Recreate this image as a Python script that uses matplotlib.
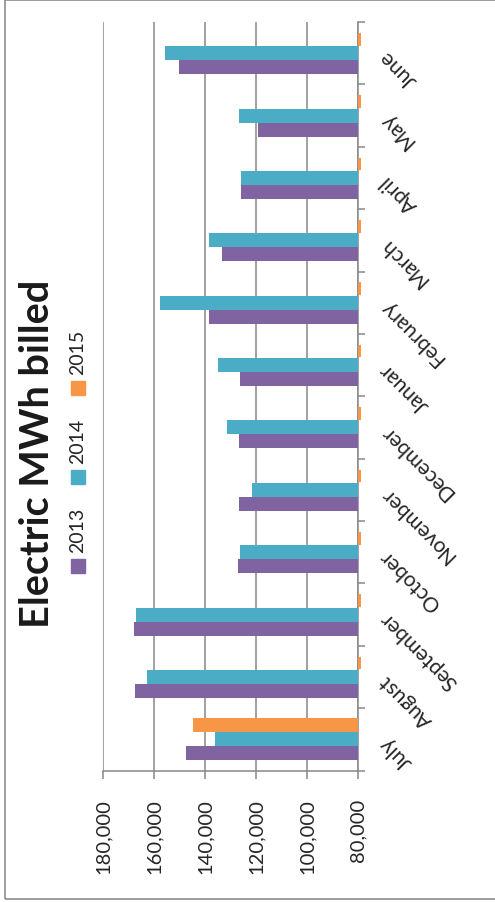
import matplotlib
matplotlib.use("Agg")
import matplotlib.pyplot as plt
import matplotlib.patches as patches
import numpy as np

# monthly electric MWh billed, fiscal year July..June
months = ["July", "August", "September", "October", "November", "December",
          "Januar", "February", "March", "April", "May", "June"]
series = ["2013", "2014", "2015"]
mwh_2013 = [147600, 167700, 168000, 127300, 126800, 126800,
            126300, 138400, 133300, 125800, 119100, 150400]
mwh_2014 = [136000, 162900, 167200, 126400, 121700, 131500,
            134800, 157900, 138400, 125800, 126900, 155600]
mwh_2015 = [144600, 0, 0, 0, 0, 0, 0, 0, 0, 0, 0, 0]
colors = ["#8064A2", "#4BACC6", "#F79646"]

x_ticks = [80000, 100000, 120000, 140000, 160000, 180000]

W, H = 495, 903
plt.rcParams["font.family"] = ["Lato", "DejaVu Sans"]
txt_color = "#262626"
grid_color = "#888888"

fig = plt.figure(figsize=(W / 100, H / 100), dpi=100)


def fx(px):
    return px / W


def fy(py):
    return 1 - py / H


ax = fig.add_axes([fx(103.3), fy(771.5), fx(358) - fx(103.3), fy(23) - fy(771.5)])

y = np.arange(len(months))
bh = 0.224
for i, vals in enumerate([mwh_2013, mwh_2014, mwh_2015]):
    vals = np.array(vals, dtype=float)
    pos = y + (i - 1) * bh
    has = vals > 0
    ax.barh(pos[has], vals[has], height=bh, color=colors[i], zorder=3)
    # empty months still get a tiny stub past the axis, as the spreadsheet draws them
    if (~has).any():
        ax.barh(pos[~has], -1000, left=80000, height=bh * 0.9, color=colors[i],
                zorder=3, clip_on=False)

ax.set_xlim(180000, 80000)
ax.set_ylim(-0.5, len(months) - 0.5)

ax.set_xticks(x_ticks)
ax.set_xticklabels(["{:,}".format(v) for v in x_ticks], rotation=90, fontsize=14.5, color=txt_color)
ax.tick_params(axis="x", direction="out", length=5.8, width=1.1, color=grid_color, pad=14)
ax.grid(axis="x", color=grid_color, linewidth=1.1, zorder=0)

ax.yaxis.tick_right()
ax.set_yticks(y)
ax.set_yticklabels(months, fontsize=15, color=txt_color)
ax.set_yticks(np.arange(-0.5, len(months)), minor=True)
ax.tick_params(axis="y", which="major", length=0, pad=18)
ax.tick_params(axis="y", which="minor", direction="out", length=5, width=1.1, color=grid_color)
for lab in ax.get_yticklabels():
    lab.set_rotation(135)
    lab.set_rotation_mode("anchor")
    lab.set_ha("right")
    lab.set_va("center")

for side in ["top", "left"]:
    ax.spines[side].set_visible(False)
for side in ["bottom", "right"]:
    ax.spines[side].set_color(grid_color)
    ax.spines[side].set_linewidth(1.1)

# title, turned with the chart
fig.text(fx(38), fy(454), "Electric MWh billed", rotation=90, ha="center", va="center",
         fontsize=28.5, fontweight="bold", color="#1a1a1a")

# legend, drawn by hand since it runs up the page
for i, name in enumerate(series):
    cy = 566.5 - i * 89
    fig.add_artist(patches.Rectangle((fx(71), fy(cy + 7)), fx(14), fy(0) - fy(14),
                                     transform=fig.transFigure, color=colors[i]))
    fig.text(fx(78), fy(cy - 36.5), name, rotation=90, ha="center", va="center",
             fontsize=14, color=txt_color)

# chart frame
frame = patches.Rectangle((fx(4.5), fy(899.5)), fx(600), fy(1) - fy(899.5),
                          transform=fig.transFigure, fill=False, edgecolor="#8c8c8c",
                          linewidth=1.2)
fig.add_artist(frame)

fig.savefig("out.png", dpi=100)
